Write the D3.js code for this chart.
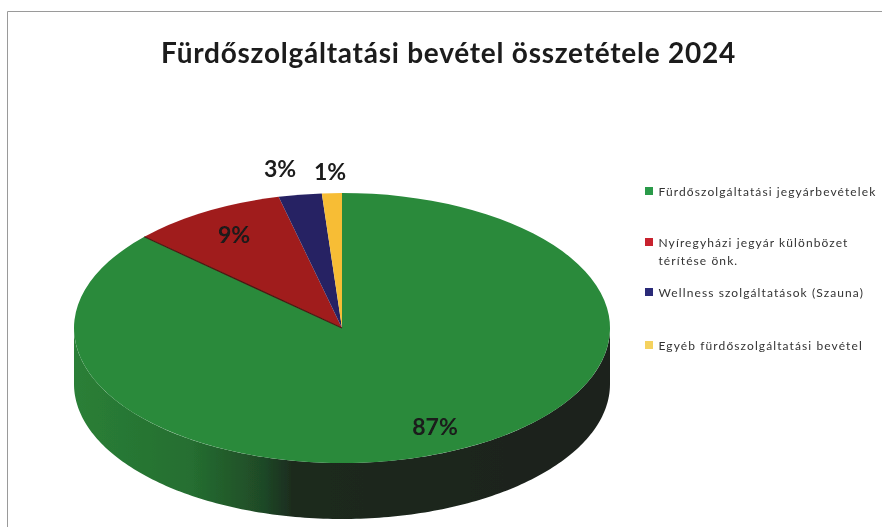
<!DOCTYPE html>
<html>
<head>
<meta charset="utf-8">
<script src="https://cdn.jsdelivr.net/npm/d3@7"></script>
<style>
  html, body { margin: 0; padding: 0; background: #fff; }
  svg { display: block; }
</style>
</head>
<body>
<svg id="chart" width="882" height="527"></svg>
<script>
const chartTitle = 'Fürdőszolgáltatási bevétel összetétele 2024';
const categories = [
  'Fürdőszolgáltatási jegyárbevételek',
  'Nyíregyházi jegyár különbözet térítése önk.',
  'Wellness szolgáltatások (Szauna)',
  'Egyéb fürdőszolgáltatási bevétel'
];
const legendLines = [
  ['Fürdőszolgáltatási jegyárbevételek'],
  ['Nyíregyházi jegyár különbözet', 'térítése önk.'],
  ['Wellness szolgáltatások (Szauna)'],
  ['Egyéb fürdőszolgáltatási bevétel']
];
const shares = [86.8, 9.4, 2.6, 1.2];
const colors = ['#298a3b', '#a01c1e', '#272364', '#f7bd35'];
const legendColors = ['#2a9a4a', '#c8242e', '#2a2a78', '#f5d25e'];

const width = 882;
const height = 527;
const cx = 342;
const cy = 328;
const rx = 268;
const ry = 135;
const depth = 56;

const svg = d3.select('#chart');

const defs = svg.append('defs');
const sideGrad = defs.append('linearGradient')
  .attr('id', 'side-grad')
  .attr('gradientUnits', 'userSpaceOnUse')
  .attr('x1', -rx).attr('x2', rx)
  .attr('y1', 0).attr('y2', 0);
sideGrad.append('stop').attr('offset', '0%').attr('stop-color', '#2a7f37');
sideGrad.append('stop').attr('offset', '22%').attr('stop-color', '#256e30');
sideGrad.append('stop').attr('offset', '35%').attr('stop-color', '#1f4a27');
sideGrad.append('stop').attr('offset', '41%').attr('stop-color', '#1a2a1e');
sideGrad.append('stop').attr('offset', '100%').attr('stop-color', '#1c211c');

const soft = defs.append('filter').attr('id', 'soft');
soft.append('feGaussianBlur').attr('stdDeviation', 0.55);

// frame
svg.append('path')
  .attr('d', `M7.5,${height} V11.5 H${width}`)
  .attr('fill', 'none')
  .attr('stroke', '#9a9a9a')
  .attr('stroke-width', 1);

svg.append('text')
  .attr('x', 448.5)
  .attr('y', 63)
  .attr('text-anchor', 'middle')
  .attr('font-family', 'Lato')
  .attr('font-weight', 700)
  .attr('font-size', 28)
  .attr('letter-spacing', 0.75)
  .attr('fill', '#1a1a1a')
  .attr('filter', 'url(#soft)')
  .text(chartTitle);

const pie = d3.pie().sort(null).value(d => d);
const slices = pie(shares);
const radius = d3.scaleLinear().domain([0, 1]).range([0, rx]);
const arc = d3.arc().innerRadius(0).outerRadius(radius(1));

const pieG = svg.append('g')
  .attr('transform', `translate(${cx},${cy})`)
  .attr('filter', 'url(#soft)');

// side wall, only the front half of the ellipse shows
const frontAngles = d3.range(90, 270.5, 1).map(a => a * Math.PI / 180);
const wall = d3.area()
  .x(t => rx * Math.sin(t))
  .y0(t => -ry * Math.cos(t))
  .y1(t => -ry * Math.cos(t) + depth);
pieG.append('path')
  .attr('d', wall(frontAngles))
  .attr('fill', 'url(#side-grad)');

// top face, circle arcs squashed to an ellipse
pieG.append('g')
  .attr('transform', `scale(1,${ry / rx})`)
  .selectAll('path')
  .data(slices)
  .enter().append('path')
  .attr('d', arc)
  .attr('fill', (d, i) => colors[i]);

// dark seam along the red slice edge
pieG.append('g')
  .attr('transform', `scale(1,${ry / rx})`)
  .append('path')
  .attr('d', d3.arc().innerRadius(0).outerRadius(radius(1)).startAngle(slices[1].startAngle).endAngle(slices[1].startAngle)())
  .attr('fill', 'none')
  .attr('stroke', '#4a1a12')
  .attr('stroke-width', 1.2)
  .attr('vector-effect', 'non-scaling-stroke');

// data labels
const labelPos = [[435, 435], [234, 243], [280, 177], [330, 180]];
svg.append('g')
  .selectAll('text')
  .data(shares)
  .enter().append('text')
  .attr('x', (d, i) => labelPos[i][0])
  .attr('y', (d, i) => labelPos[i][1])
  .attr('text-anchor', 'middle')
  .attr('font-family', 'Lato')
  .attr('font-weight', 700)
  .attr('font-size', 23)
  .attr('fill', '#1a1a1a')
  .attr('filter', 'url(#soft)')
  .text(d => d3.format('.0f')(d) + '%');

// legend
const legendRows = [196, 247, 297, 350];
const legend = svg.append('g').attr('class', 'legend').attr('filter', 'url(#soft)');
const legendItems = legend.selectAll('.legend-item')
  .data(categories)
  .enter().append('g')
  .attr('class', 'legend-item')
  .attr('transform', (d, i) => `translate(645,${legendRows[i]})`);
legendItems.append('rect')
  .attr('x', 0)
  .attr('y', -9)
  .attr('width', 8)
  .attr('height', 8)
  .attr('fill', (d, i) => legendColors[i]);
legendItems.each(function (d, i) {
  const t = d3.select(this).append('text')
    .attr('font-family', 'Lato')
    .attr('font-size', 12)
    .attr('letter-spacing', 1.1)
    .attr('fill', '#333');
  legendLines[i].forEach((line, j) => {
    t.append('tspan')
      .attr('x', 13.5)
      .attr('y', j * 18)
      .text(line);
  });
});
</script>
</body>
</html>
